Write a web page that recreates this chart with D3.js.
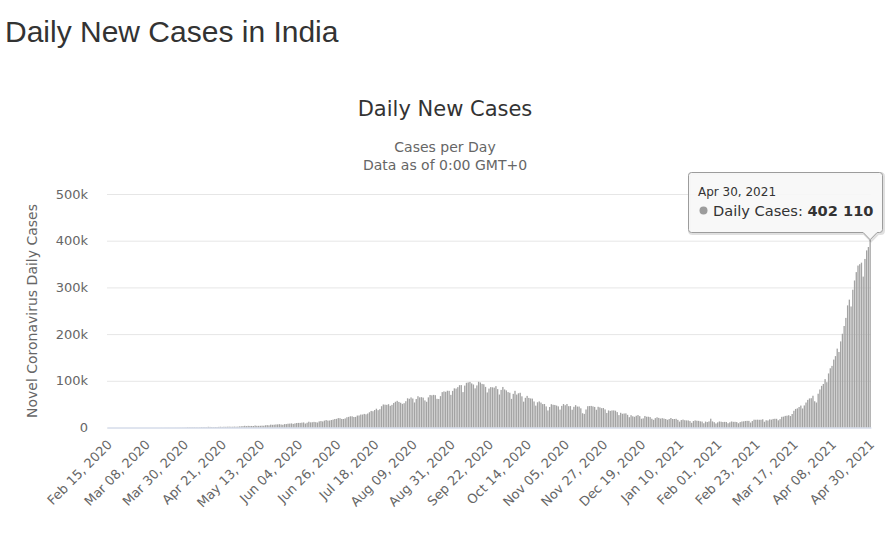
<!DOCTYPE html>
<html>
<head>
<meta charset="utf-8">
<script src="https://cdn.jsdelivr.net/npm/d3@7"></script>
<style>
  body { margin: 0; background: #fff; }
  svg { display: block; }
</style>
</head>
<body>
<div id="chart"></div>
<script>
// daily new cases, one array per month (Feb 15, 2020 .. Apr 30, 2021)
const feb2020 = [0,0,0,0,0,0,0,0,0,0,0,0,0,0,0];
const mar2020 = [0,2,1,22,2,1,3,5,9,15,8,10,10,20,26,13,23,14,46,56,73,76,104,63,75,88,153,131,208,230,300];
const apr2020 = [601,545,624,579,578,523,564,529,809,869,919,705,1463,1248,1034,826,1076,1000,1324,1584,1234,1622,1429,1684,1835,1607,1568,1902,1705,1801];
const may2020 = [2396,2564,2952,3656,2971,3602,3344,3339,3175,4311,3592,3562,3726,3991,3808,4794,5049,4628,6154,5720,6023,6536,6665,7111,6414,5843,7293,7300,8105,8336,8782];
const jun2020 = [7723,8812,9638,9851,9847,10438,10864,8442,10218,12375,10956,11303,12039,11374,10667,13103,13827,12938,14721,15915,14821,14933,15968,16868,18185,18552,20131,19906,18339,18256];
const jul2020 = [19429,21947,22721,24018,23932,22510,22687,25571,25790,27761,27755,29106,28178,29917,32682,35468,34820,37411,40243,37148,39170,45601,49310,48916,48472,49931,46484,48513,52509,55078,57118];
const aug2020 = [54735,52972,50629,52050,56282,62538,61537,64399,62064,53601,60963,66999,64553,65002,63986,57981,55079,64531,69652,68898,69878,69239,61408,60975,67151,75760,77266,76472,78761,78512,69921];
const sep2020 = [78357,83883,83341,86432,90632,90802,75809,89706,95735,96551,97570,94372,92071,83809,90123,97894,96424,93337,92605,86961,75083,83347,86508,86052,85362,88600,82170,70589,80472,86821];
const oct2020 = [81484,79476,75829,74442,61267,72049,78524,70496,73272,74383,66732,55342,63509,67708,63371,62212,61871,55722,46790,54044,55839,53370,50129,50356,45149,36469,43893,49881,48648,48268,46963];
const nov2020 = [45231,38310,46253,50210,47638,50357,45674,45903,38073,44281,47905,44879,44878,41100,30548,29163,38617,45576,45882,46232,45209,44059,37975,44376,43082,41322,41810,38772,31118,36604];
const dec2020 = [35551,36595,36652,36011,32981,26567,31521,29398,30006,30254,27071,22065,26382,24010,22890,25152,26624,24337,18732,19556,24712,23067,23068,22273,18732,16432,20021,21822,20549,19079,20035];
const jan2021 = [19078,18177,16504,18088,20346,18139,18222,18645,16311,12584,15968,16946,15590,15158,15144,13788,10064,13823,15223,14545,14256,13203,12689,9102,12689,11666,13052,18855,13083,11427,8635];
const feb2021 = [11039,12899,12408,11713,12059,11831,9110,11067,12923,12143,12194,11649,9121,11610,12881,13193,13993,14264,14199,10584,13742,16738,16577,16752,16488,16620,17590,12286];
const mar2021 = [15510,14989,17407,16838,18327,18711,18599,15388,17921,22854,23285,24882,25320,26291,24492,28903,35871,39726,40953,43846,46951,40715,47262,53476,59118,62258,62714,68020,56211,53480,72330];
const apr2021 = [81466,89129,93249,103558,96982,115736,126789,131968,145384,152879,168912,161736,184372,200739,217353,234692,261500,273810,259170,295041,314835,332730,346786,349691,352991,323144,360960,379257,386452,402110];

const xTickLabels = ["Feb 15, 2020","Mar 08, 2020","Mar 30, 2020","Apr 21, 2020","May 13, 2020","Jun 04, 2020","Jun 26, 2020","Jul 18, 2020","Aug 09, 2020","Aug 31, 2020","Sep 22, 2020","Oct 14, 2020","Nov 05, 2020","Nov 27, 2020","Dec 19, 2020","Jan 10, 2021","Feb 01, 2021","Feb 23, 2021","Mar 17, 2021","Apr 08, 2021","Apr 30, 2021"];
const yTicks = [0, 100000, 200000, 300000, 400000, 500000];

const cases = [].concat(feb2020, mar2020, apr2020, may2020, jun2020, jul2020, aug2020,
  sep2020, oct2020, nov2020, dec2020, jan2021, feb2021, mar2021, apr2021);

const fmtDate = d3.timeFormat("%b %d, %Y");
const days = d3.timeDay.range(new Date(2020, 1, 15), new Date(2021, 4, 1));
const data = days.map((d, i) => ({ date: fmtDate(d), value: cases[i] }));

const width = 893, height = 534;
const plot = { left: 107, right: 871, top: 194, bottom: 427.5 };
const font = "'DejaVu Sans', Verdana, sans-serif";

const svg = d3.select("#chart").append("svg").attr("width", width).attr("height", height);

const xScale = d3.scaleBand().domain(data.map(d => d.date)).range([plot.left, plot.right]).padding(0);
const yScale = d3.scaleLinear().domain([0, 500000]).range([plot.bottom, plot.top]);

// page heading
svg.append("text").attr("x", 5).attr("y", 42).attr("font-family", "'Liberation Sans', Arial, sans-serif")
  .attr("font-size", 30).attr("fill", "#333").text("Daily New Cases in India");

// chart title + subtitle
svg.append("text").attr("x", 445).attr("y", 116).attr("text-anchor", "middle").attr("font-family", font)
  .attr("font-size", 21).attr("fill", "#333").text("Daily New Cases");
svg.append("text").attr("x", 445).attr("y", 152).attr("text-anchor", "middle").attr("font-family", font)
  .attr("font-size", 14).attr("fill", "#666").text("Cases per Day");
svg.append("text").attr("x", 445).attr("y", 169.5).attr("text-anchor", "middle").attr("font-family", font)
  .attr("font-size", 14).attr("fill", "#666").text("Data as of 0:00 GMT+0");

// y axis with gridlines
const yAxis = d3.axisLeft(yScale).tickValues(yTicks)
  .tickFormat(d => d === 0 ? "0" : d / 1000 + "k")
  .tickSize(-(plot.right - plot.left)).tickPadding(19);
const gy = svg.append("g").attr("transform", `translate(${plot.left},0)`).call(yAxis);
gy.select(".domain").remove();
gy.selectAll(".tick line").attr("stroke", "#e6e6e6");
gy.selectAll(".tick text").attr("font-family", font).attr("font-size", 13).attr("fill", "#666");

svg.append("text")
  .attr("transform", `translate(37,311) rotate(-90)`)
  .attr("text-anchor", "middle").attr("font-family", font).attr("font-size", 14).attr("fill", "#666")
  .text("Novel Coronavirus Daily Cases");

// bars
const bw = xScale.bandwidth();
svg.append("g").selectAll("rect").data(data).join("rect")
  .attr("x", d => xScale(d.date) + bw * 0.12)
  .attr("width", bw * 0.76)
  .attr("y", d => yScale(d.value))
  .attr("height", d => plot.bottom - yScale(d.value))
  .attr("fill", "#a3a3a3");

// x axis
const xAxis = d3.axisBottom(xScale).tickValues(xTickLabels).tickSize(0).tickPadding(0);
const gx = svg.append("g").attr("transform", `translate(0,${plot.bottom})`).call(xAxis);
gx.select(".domain").attr("stroke", "#ccd6eb");
gx.selectAll(".tick text")
  .attr("font-family", font).attr("font-size", 13).attr("fill", "#666")
  .attr("text-anchor", "end").attr("dy", null).attr("y", 0)
  .attr("transform", "translate(5,18) rotate(-45)");

// tooltip for the last point
const last = data[data.length - 1];
const px = xScale(last.date) + bw / 2, py = yScale(last.value);
const box = { x: 688.5, y: 172.5, w: 194, h: 60 };
const tip = svg.append("g");
const r = 3;
const pathD = `M${box.x + r},${box.y} H${box.x + box.w - r} Q${box.x + box.w},${box.y} ${box.x + box.w},${box.y + r}
  V${box.y + box.h - r} Q${box.x + box.w},${box.y + box.h} ${box.x + box.w - r},${box.y + box.h}
  H${px + 7} L${px},${py} L${px - 7},${box.y + box.h} H${box.x + r}
  Q${box.x},${box.y + box.h} ${box.x},${box.y + box.h - r} V${box.y + r} Q${box.x},${box.y} ${box.x + r},${box.y} Z`;
tip.append("path").attr("d", pathD).attr("transform", "translate(1,1)")
  .attr("fill", "none").attr("stroke", "rgba(0,0,0,0.12)").attr("stroke-width", 3);
tip.append("path").attr("d", pathD).attr("fill", "rgba(247,247,247,0.92)").attr("stroke", "#9c9c9c");
tip.append("text").attr("x", 698).attr("y", 196).attr("font-family", font).attr("font-size", 12)
  .attr("fill", "#333").text(last.date.replace(/ 0(\d),/, " $1,"));
tip.append("circle").attr("cx", 703.5).attr("cy", 210.5).attr("r", 4).attr("fill", "#9c9c9c");
const line2 = tip.append("text").attr("x", 713).attr("y", 215.5).attr("font-family", font)
  .attr("font-size", 14.6).attr("fill", "#333");
line2.append("tspan").text("Daily Cases: ");
line2.append("tspan").attr("font-weight", "bold").text(d3.format(",")(last.value).replace(/,/g, " "));
</script>
</body>
</html>
